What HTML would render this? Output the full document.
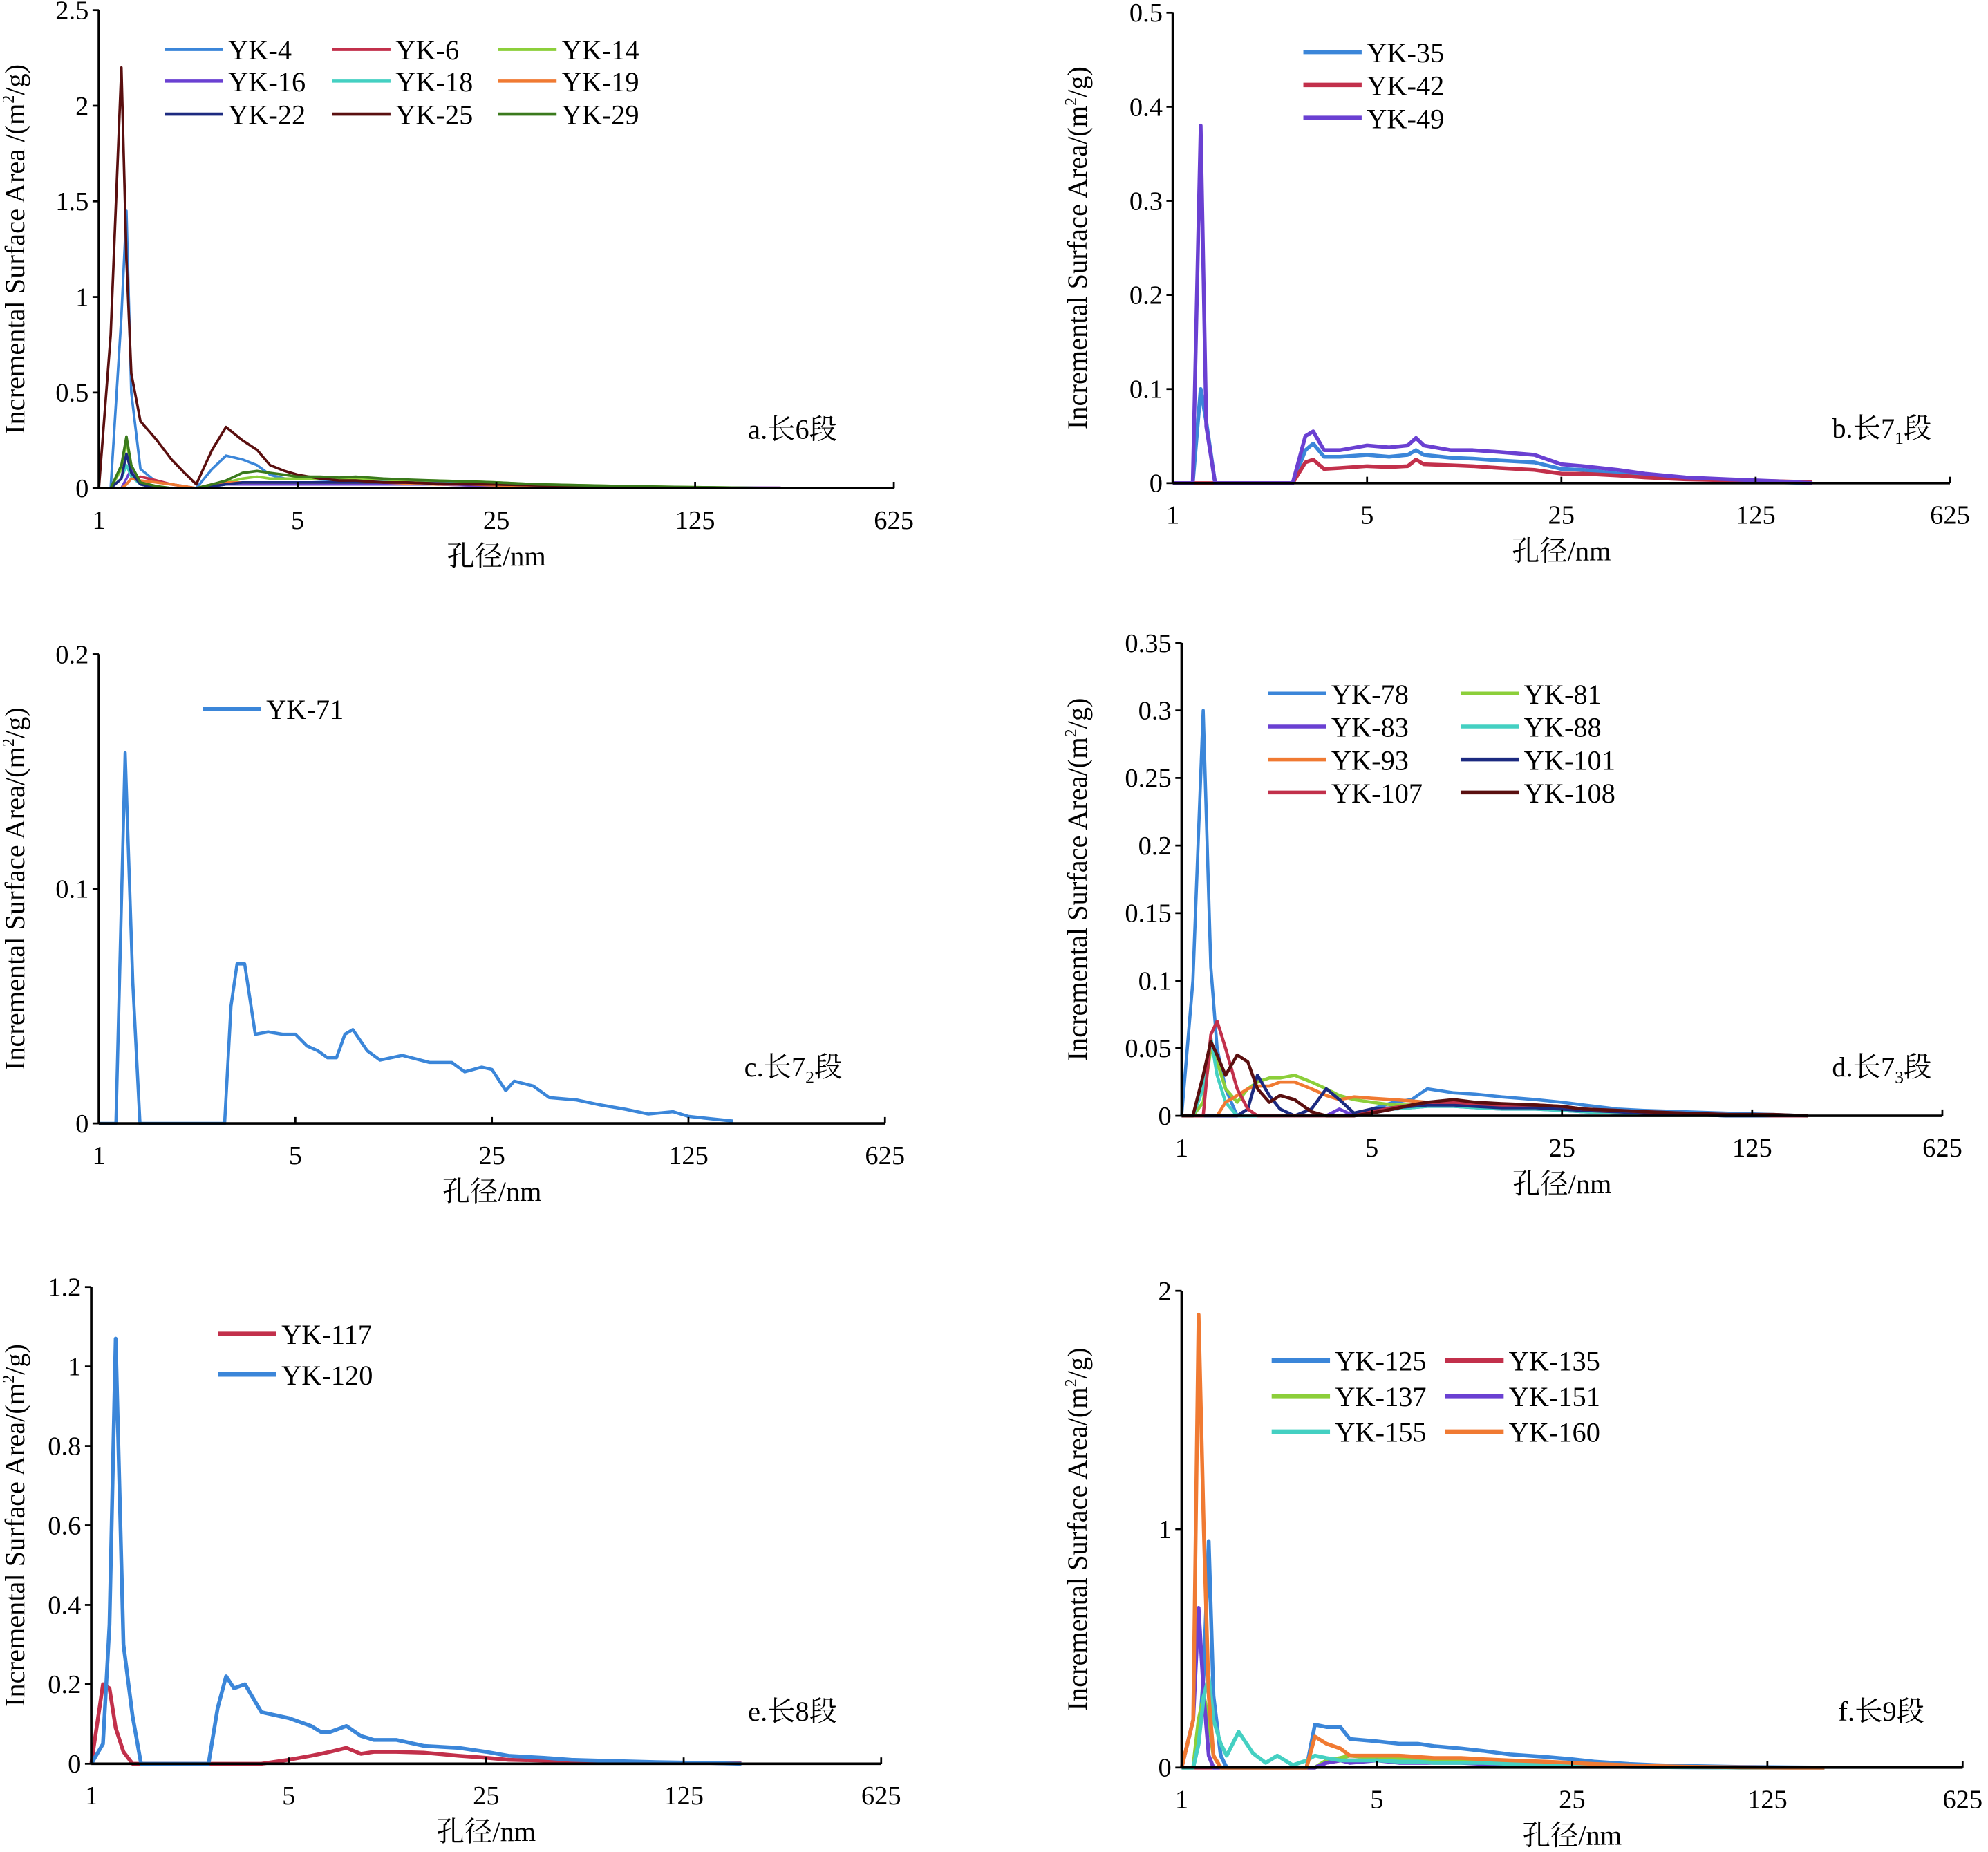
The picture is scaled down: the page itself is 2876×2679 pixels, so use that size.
<!DOCTYPE html>
<html><head><meta charset="utf-8"><style>
html,body{margin:0;padding:0;background:#fff;}
svg{display:block;}
text{font-family:"Liberation Serif","Noto Serif CJK SC","Noto Sans CJK SC",serif;fill:#000;}
</style></head><body>
<svg id="chart" xmlns="http://www.w3.org/2000/svg" width="2876" height="2679" viewBox="0 0 1568 1460.6"></svg>
<script>
// ---------- data ----------
const aX=[1,1.1,1.2,1.25,1.3,1.4,1.6,1.8,2,2.2,2.5,2.8,3.2,3.6,4,4.5,5,6,7,8,10,12,15,20,25,35,50,75,100,150,250];
const aYK4=[0,0,0.9,1.45,0.5,0.1,0.03,0.02,0.01,0,0.1,0.17,0.15,0.12,0.07,0.05,0.05,0.045,0.04,0.04,0.035,0.03,0.03,0.025,0.02,0.015,0.01,0.007,0.005,0.003,0];
const aYK6=[0,0,0,0.02,0.05,0.06,0.04,0.02,0.01,0,0.01,0.02,0.02,0.02,0.02,0.02,0.02,0.02,0.02,0.02,0.02,0.02,0.02,0.015,0.015,0.01,0.008,0.005,0.004,0.003,0.002];
const aYK14=[0,0,0.1,0.25,0.1,0.02,0.01,0,0,0,0.02,0.03,0.05,0.06,0.05,0.05,0.05,0.05,0.05,0.05,0.045,0.04,0.04,0.035,0.03,0.02,0.015,0.01,0.007,0.004,0];
const aYK16=[0,0,0,0.05,0.1,0.03,0,0,0,0,0.01,0.02,0.02,0.02,0.02,0.02,0.02,0.02,0.02,0.02,0.02,0.02,0.02,0.015,0.015,0.01,0.008,0.005,0.004,0.003,0.002];
const aYK18=[0,0,0.05,0.12,0.06,0.02,0,0,0,0,0.01,0.02,0.03,0.03,0.03,0.03,0.03,0.03,0.03,0.03,0.03,0.03,0.025,0.02,0.02,0.015,0.01,0.008,0.005,0.003,0];
const aYK19=[0,0,0,0.02,0.05,0.04,0.03,0.02,0.01,0,0.02,0.03,0.03,0.03,0.03,0.03,0.03,0.03,0.03,0.03,0.03,0.025,0.02,0.02,0.015,0.01,0.008,0.005,0.003,0.002,0];
const aYK22=[0,0,0.05,0.18,0.08,0.02,0,0,0,0,0.01,0.02,0.03,0.03,0.03,0.03,0.03,0.03,0.03,0.03,0.03,0.03,0.025,0.02,0.02,0.015,0.01,0.008,0.005,0.003,0];
const aYK25=[0,0.8,2.2,1.2,0.6,0.35,0.25,0.15,0.08,0.02,0.2,0.32,0.25,0.2,0.12,0.09,0.07,0.05,0.04,0.04,0.03,0.03,0.025,0.02,0.02,0.015,0.01,0.008,0.005,0.003,0];
const aYK29=[0,0,0.12,0.27,0.12,0.03,0.01,0,0,0,0.02,0.04,0.08,0.09,0.08,0.07,0.06,0.06,0.055,0.06,0.05,0.045,0.04,0.035,0.03,0.02,0.015,0.01,0.007,0.004,0];

const bX=[1,1.18,1.26,1.32,1.42,2.7,3,3.2,3.5,4,5,6,7,7.5,8,10,12,15,20,25,30,40,50,70,100,150,200];
const bYK35=[0,0,0.1,0.065,0,0,0.035,0.042,0.028,0.028,0.03,0.028,0.03,0.035,0.03,0.027,0.026,0.024,0.022,0.015,0.014,0.01,0.008,0.005,0.003,0.001,0];
const bYK42=[0,0,0,0,0,0,0.022,0.025,0.015,0.016,0.018,0.017,0.018,0.025,0.02,0.019,0.018,0.016,0.014,0.01,0.01,0.008,0.006,0.004,0.003,0.002,0.001];
const bYK49=[0,0,0.38,0.06,0,0,0.05,0.055,0.035,0.035,0.04,0.038,0.04,0.048,0.04,0.035,0.035,0.033,0.03,0.02,0.018,0.014,0.01,0.006,0.004,0.002,0];

const cX=[1,1.15,1.24,1.32,1.4,2.8,2.95,3.1,3.3,3.6,4,4.5,5,5.5,6,6.5,7,7.5,8,9,10,12,15,18,20,23,25,28,30,35,40,50,60,75,90,110,125,180];
const cYK71=[0,0,0.158,0.06,0,0,0.05,0.068,0.068,0.038,0.039,0.038,0.038,0.033,0.031,0.028,0.028,0.038,0.04,0.031,0.027,0.029,0.026,0.026,0.022,0.024,0.023,0.014,0.018,0.016,0.011,0.01,0.008,0.006,0.004,0.005,0.003,0.001];

const dX=[1,1.1,1.2,1.28,1.35,1.45,1.6,1.75,1.9,2.1,2.3,2.6,3,3.4,3.8,4.3,5,6,7,8,10,12,15,20,25,30,40,50,70,100,150,200];
const dYK78=[0,0.1,0.3,0.11,0.05,0.02,0,0,0,0,0,0,0,0,0,0,0.005,0.01,0.012,0.02,0.017,0.016,0.014,0.012,0.01,0.008,0.005,0.004,0.003,0.002,0.001,0];
const dYK81=[0,0,0.01,0.05,0.04,0.02,0.01,0.02,0.025,0.028,0.028,0.03,0.025,0.02,0.015,0.012,0.01,0.008,0.008,0.009,0.01,0.008,0.007,0.006,0.005,0.004,0.003,0.002,0.001,0.001,0,0];
const dYK83=[0,0,0,0,0,0,0,0,0,0,0,0,0,0,0.005,0,0.002,0.005,0.006,0.007,0.007,0.006,0.005,0.005,0.004,0.003,0.002,0.001,0.001,0,0,0];
const dYK88=[0,0,0.02,0.058,0.03,0.01,0,0,0,0,0,0,0,0,0,0,0.003,0.005,0.006,0.007,0.007,0.006,0.005,0.005,0.004,0.003,0.002,0.001,0.001,0,0,0];
const dYK93=[0,0,0,0,0,0.01,0.015,0.02,0.022,0.022,0.025,0.025,0.02,0.015,0.012,0.014,0.013,0.012,0.011,0.01,0.01,0.009,0.008,0.007,0.006,0.004,0.003,0.002,0.001,0.001,0,0];
const dYK101=[0,0,0,0,0,0,0,0.005,0.03,0.015,0.005,0,0.005,0.02,0.012,0.002,0.005,0.006,0.007,0.008,0.008,0.007,0.006,0.006,0.005,0.004,0.003,0.002,0.001,0,0,0];
const dYK107=[0,0,0,0.06,0.07,0.05,0.02,0.005,0,0,0,0,0,0,0,0,0.003,0.006,0.008,0.01,0.01,0.009,0.008,0.008,0.007,0.005,0.004,0.003,0.002,0.001,0,0];
const dYK108=[0,0,0.03,0.055,0.045,0.03,0.045,0.04,0.02,0.01,0.015,0.012,0.003,0,0,0,0.002,0.005,0.008,0.01,0.012,0.01,0.009,0.008,0.007,0.005,0.004,0.003,0.002,0.001,0.001,0];

const eX=[1,1.1,1.16,1.22,1.3,1.4,1.5,1.6,2.6,2.8,3,3.2,3.5,4,5,6,6.5,7,8,9,10,12,15,20,25,30,40,50,70,100,150,200];
const eYK117=[0,0.2,0.19,0.09,0.03,0,0,0,0,0,0,0,0,0,0.01,0.02,0.025,0.03,0.04,0.025,0.03,0.03,0.028,0.02,0.015,0.01,0.008,0.005,0.004,0.003,0.002,0.001];
const eYK120=[0,0.05,0.35,1.07,0.3,0.12,0,0,0,0.14,0.22,0.19,0.2,0.13,0.115,0.095,0.08,0.08,0.095,0.07,0.06,0.06,0.045,0.04,0.03,0.02,0.015,0.01,0.007,0.004,0.002,0];

const fX=[1,1.1,1.15,1.2,1.25,1.3,1.38,1.45,1.6,1.8,2,2.2,2.5,2.8,3,3.3,3.7,4,5,6,7,8,10,12,15,20,25,30,40,50,70,100,150,200];
const fYK125=[0,0,0.1,0.4,0.95,0.3,0.05,0,0,0,0,0,0,0,0.18,0.17,0.17,0.12,0.11,0.1,0.1,0.09,0.08,0.07,0.055,0.045,0.035,0.025,0.015,0.01,0.006,0.003,0.001,0];
const fYK135=[0,0,0,0,0,0,0,0,0,0,0,0,0,0,0,0.02,0.03,0.03,0.03,0.03,0.03,0.03,0.025,0.02,0.02,0.015,0.01,0.008,0.005,0.003,0.002,0.001,0,0];
const fYK137=[0,0,0.2,0.3,0.2,0.05,0,0,0,0,0,0,0,0,0,0.03,0.04,0.05,0.04,0.04,0.035,0.03,0.03,0.025,0.02,0.015,0.012,0.008,0.005,0.003,0.002,0,0,0];
const fYK151=[0,0.2,0.67,0.3,0.05,0,0,0,0,0,0,0,0,0,0,0.02,0.03,0.02,0.03,0.02,0.02,0.02,0.02,0.015,0.012,0.01,0.008,0.005,0.003,0.002,0.001,0,0,0];
const fYK155=[0,0,0.1,0.3,0.38,0.2,0.1,0.05,0.15,0.06,0.02,0.05,0.01,0.03,0.05,0.04,0.03,0.03,0.03,0.025,0.025,0.02,0.02,0.02,0.015,0.01,0.008,0.005,0.003,0.002,0.001,0,0,0];
const fYK160=[0,0.2,1.9,1.0,0.3,0.05,0,0,0,0,0,0,0,0,0.13,0.1,0.08,0.05,0.05,0.05,0.045,0.04,0.04,0.035,0.03,0.025,0.02,0.015,0.01,0.006,0.003,0.001,0,0];

const xTickVals=[1,5,25,125,625];
const aYTicks=[0,0.5,1,1.5,2,2.5];
const bYTicks=[0,0.1,0.2,0.3,0.4,0.5];
const cYTicks=[0,0.1,0.2];
const dYTicks=[0,0.05,0.1,0.15,0.2,0.25,0.3,0.35];
const eYTicks=[0,0.2,0.4,0.6,0.8,1,1.2];
const fYTicks=[0,1,2];

// ---------- drawing ----------
const NS='http://www.w3.org/2000/svg';
const svg=document.getElementById('chart');
function mk(tag,attrs,parent){const e=document.createElementNS(NS,tag);for(const k in attrs)e.setAttribute(k,attrs[k]);(parent||svg).appendChild(e);return e;}

function panel(p){
  const g=mk('g',{});
  
  
  const yMax=p.yTicks[p.yTicks.length-1];
  const sx=v=>p.x0+(p.x1-p.x0)*Math.log(v)/Math.log(625);
  const sy=v=>p.y0-(p.y0-p.yTop)*v/yMax;
  p.series.forEach(s=>{
    const d=s.xs.map((x,i)=>(i?'L':'M')+sx(x).toFixed(2)+','+sy(s.ys[i]).toFixed(2)).join(' ');
    const path=mk('path',{d:d,fill:'none',stroke:s.color,'stroke-width':p.lw,'stroke-linejoin':'round'},g);
    
    
  });
  const ya=mk('line',{x1:p.x0,y1:p.yTop,x2:p.x0,y2:p.y0,stroke:'#000','stroke-width':2},g);
  
  
  const xa=mk('line',{x1:p.x0,y1:p.y0,x2:p.x1,y2:p.y0,stroke:'#000','stroke-width':2},g);
  
  
  p.yTicks.forEach(v=>{
    mk('line',{x1:p.x0-5,y1:sy(v),x2:p.x0,y2:sy(v),stroke:'#000','stroke-width':1.5},g);
    const t=mk('text',{x:p.x0-8,y:sy(v)+7,'text-anchor':'end','font-size':21},g);
    t.textContent=String(v);
    
    
  });
  xTickVals.forEach(v=>{
    mk('line',{x1:sx(v),y1:p.y0,x2:sx(v),y2:p.y0-5,stroke:'#000','stroke-width':1.5},g);
    const t=mk('text',{x:sx(v),y:p.y0+32,'text-anchor':'middle','font-size':21},g);
    t.textContent=String(v);
    
    
  });
  const xt=mk('text',{x:(p.x0+p.x1)/2,y:p.y0+61,'text-anchor':'middle','font-size':22},g);
  xt.textContent='孔径/nm';
  
  
  const cy=(p.yTop+p.y0)/2;
  const yt=mk('text',{x:p.ytx,y:cy,'text-anchor':'middle','font-size':22,transform:'rotate(-90 '+p.ytx+' '+cy+')'},g);
  yt.innerHTML='Incremental Surface Area'+p.ysep+'/(m<tspan font-size="13" dy="-8">2</tspan><tspan dy="8">/g)</tspan>';
  
  
  const pl=mk('text',{x:p.lx,y:p.ly,'font-size':22},g);
  pl.innerHTML=p.label;
  
  
  p.series.forEach((s,i)=>{
    const col=i%p.cols,row=Math.floor(i/p.cols);
    const lx=p.legX[col],ly=p.legY[row];
    const lg=mk('g',{},g);
    
    
    mk('line',{x1:lx,y1:ly,x2:lx+46,y2:ly,stroke:s.color,'stroke-width':p.lw+0.5},lg);
    const t=mk('text',{x:lx+50,y:ly+8,'font-size':22},lg);
    t.textContent=s.name;
  });
}

const C={blue:'#3b86d9',crim:'#c2304b',lgreen:'#8ccf3a',purp:'#6a40d2',teal:'#44d0c2',orange:'#f07a32',navy:'#1c2a80',brown:'#5a0f0f',dgreen:'#3a7a1c'};

panel({id:'a',x0:78,x1:705,y0:385,yTop:8,yTicks:aYTicks,lw:2,ytx:19,ysep:' ',lx:590,ly:346,label:'a.长6段',
  cols:3,legX:[130,262,393],legY:[39,64,90],
  series:[{name:'YK-4',xs:aX,ys:aYK4,color:C.blue},{name:'YK-6',xs:aX,ys:aYK6,color:C.crim},{name:'YK-14',xs:aX,ys:aYK14,color:C.lgreen},
  {name:'YK-16',xs:aX,ys:aYK16,color:C.purp},{name:'YK-18',xs:aX,ys:aYK18,color:C.teal},{name:'YK-19',xs:aX,ys:aYK19,color:C.orange},
  {name:'YK-22',xs:aX,ys:aYK22,color:C.navy},{name:'YK-25',xs:aX,ys:aYK25,color:C.brown},{name:'YK-29',xs:aX,ys:aYK29,color:C.dgreen}]});

panel({id:'b',x0:925,x1:1538,y0:381,yTop:10,yTicks:bYTicks,lw:3,ytx:857,ysep:'',lx:1445,ly:345,label:'b.长7<tspan font-size="14" dy="5">1</tspan><tspan dy="-5">段</tspan>',
  cols:1,legX:[1028],legY:[41,67,93],
  series:[{name:'YK-35',xs:bX,ys:bYK35,color:C.blue},{name:'YK-42',xs:bX,ys:bYK42,color:C.crim},{name:'YK-49',xs:bX,ys:bYK49,color:C.purp}]});

panel({id:'c',x0:78,x1:698,y0:886,yTop:516,yTicks:cYTicks,lw:2.5,ytx:19,ysep:'',lx:587,ly:849,label:'c.长7<tspan font-size="14" dy="5">2</tspan><tspan dy="-5">段</tspan>',
  cols:1,legX:[160],legY:[559],
  series:[{name:'YK-71',xs:cX,ys:cYK71,color:C.blue}]});

panel({id:'d',x0:932,x1:1532,y0:880,yTop:507,yTicks:dYTicks,lw:2.5,ytx:857,ysep:'',lx:1445,ly:849,label:'d.长7<tspan font-size="14" dy="5">3</tspan><tspan dy="-5">段</tspan>',
  cols:2,legX:[1000,1152],legY:[547,573,599,625],
  series:[{name:'YK-78',xs:dX,ys:dYK78,color:C.blue},{name:'YK-81',xs:dX,ys:dYK81,color:C.lgreen},
  {name:'YK-83',xs:dX,ys:dYK83,color:C.purp},{name:'YK-88',xs:dX,ys:dYK88,color:C.teal},
  {name:'YK-93',xs:dX,ys:dYK93,color:C.orange},{name:'YK-101',xs:dX,ys:dYK101,color:C.navy},
  {name:'YK-107',xs:dX,ys:dYK107,color:C.crim},{name:'YK-108',xs:dX,ys:dYK108,color:C.brown}]});

panel({id:'e',x0:72,x1:695,y0:1391,yTop:1015,yTicks:eYTicks,lw:3,ytx:19,ysep:'',lx:590,ly:1357,label:'e.长8段',
  cols:1,legX:[172],legY:[1052,1084],
  series:[{name:'YK-117',xs:eX,ys:eYK117,color:C.crim},{name:'YK-120',xs:eX,ys:eYK120,color:C.blue}]});

panel({id:'f',x0:932,x1:1548,y0:1394,yTop:1018,yTicks:fYTicks,lw:3,ytx:857,ysep:'',lx:1450,ly:1357,label:'f.长9段',
  cols:2,legX:[1003,1140],legY:[1073,1101,1129],
  series:[{name:'YK-125',xs:fX,ys:fYK125,color:C.blue},{name:'YK-135',xs:fX,ys:fYK135,color:C.crim},
  {name:'YK-137',xs:fX,ys:fYK137,color:C.lgreen},{name:'YK-151',xs:fX,ys:fYK151,color:C.purp},
  {name:'YK-155',xs:fX,ys:fYK155,color:C.teal},{name:'YK-160',xs:fX,ys:fYK160,color:C.orange}]});
</script>
</body></html>
